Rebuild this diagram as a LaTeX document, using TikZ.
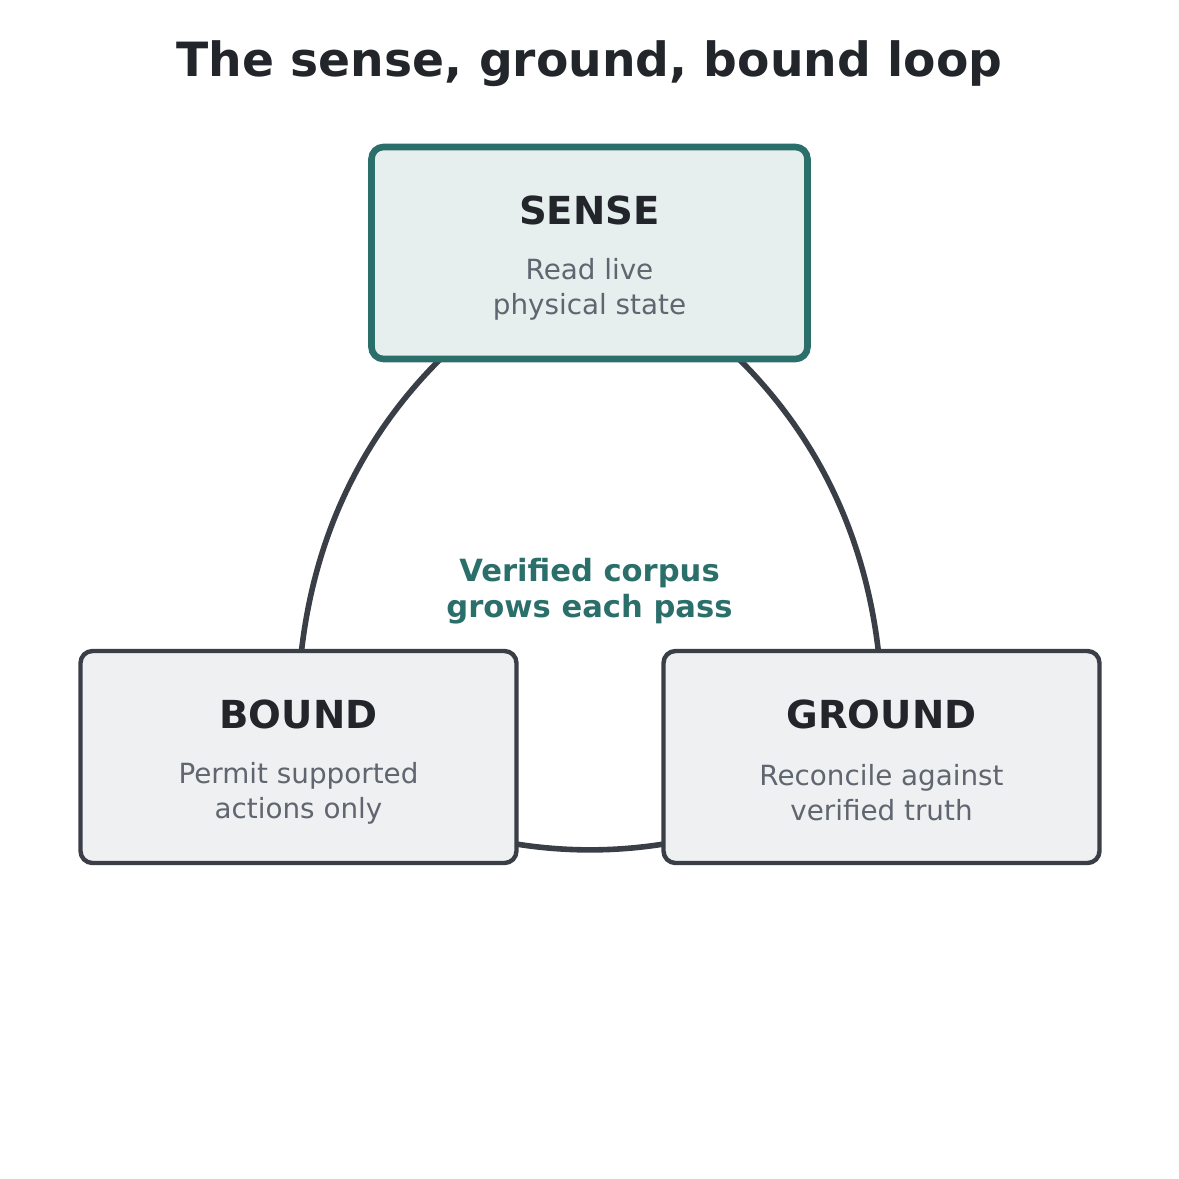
\documentclass[tikz,border=0pt]{standalone}
\usepackage{fontspec}
\setmainfont{DejaVu Sans}
\usetikzlibrary{positioning, backgrounds}

\definecolor{loopteal}{HTML}{2B6F6B}
\definecolor{sensefill}{HTML}{E6EFEE}
\definecolor{boxedge}{HTML}{3A3F47}
\definecolor{boxfill}{HTML}{EFF0F2}
\definecolor{inkdark}{HTML}{22262B}
\definecolor{inkgray}{HTML}{5F6670}

\begin{document}
\begin{tikzpicture}[x=0.5pt, y=-0.5pt,
	stage/.style={draw=boxedge, fill=boxfill, line width=2.2pt, rounded corners=6pt, minimum width=218pt, minimum height=106pt, inner sep=0pt},
	head/.style={text=inkdark, font=\fontsize{19.3}{24}\selectfont\bfseries},
	sub/.style={text=inkgray, align=center, font=\fontsize{13.9}{17.5}\selectfont},
	loopline/.style={draw=boxedge, line width=2.8pt}]
		\useasboundingbox (0,0) rectangle (1179,1179);
		\node[text=inkdark, font=\fontsize{23.6}{28}\selectfont\bfseries] (title) at (589.5,64) {The sense, ground, bound loop};
		
		\node[stage, draw=loopteal, fill=sensefill, line width=3.3pt] (sense) at (589.5,253) {};
		\node[stage] (bound) at (298.5,757) {};
		\node[stage] (ground) at (881.5,757) {};
		
		\node[head] (sense-head) at ([yshift=21.5pt]sense.center) {SENSE};
		\node[sub] (sense-sub) at ([yshift=-18pt]sense.center) {Read live\\physical state};
		\node[head] (bound-head) at ([yshift=21.5pt]bound.center) {BOUND};
		\node[sub] (bound-sub) at ([yshift=-18pt]bound.center) {Permit supported\\actions only};
		\node[head] (ground-head) at ([yshift=21.5pt]ground.center) {GROUND};
		\node[sub] (ground-sub) at ([yshift=-18pt]ground.center) {Reconcile against\\verified truth};
		
		\node[text=loopteal, align=center, font=\fontsize{15.3}{18}\selectfont\bfseries] (corpus) at (589.5,591) {Verified corpus\\grows each pass};
		
		\begin{scope}[on background layer]
		\path[loopline]
		(sense.center) edge [bend left=33] (ground.center)
		(ground.center) edge [bend left=33] (bound.center)
		(bound.center) edge [bend left=33] (sense.center);
		\end{scope}
	\end{tikzpicture}
\end{document}
